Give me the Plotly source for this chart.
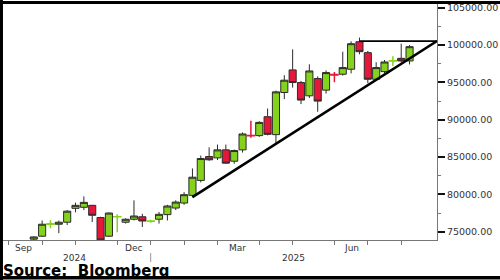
import numpy as np
import plotly.graph_objects as go

# ---- data (weekly candles) ----
dates = ["2024-09-20", "2024-09-27", "2024-10-04", "2024-10-11", "2024-10-18", "2024-10-25",
         "2024-11-01", "2024-11-08", "2024-11-15", "2024-11-22", "2024-11-29",
         "2024-12-06", "2024-12-13", "2024-12-20", "2024-12-27",
         "2025-01-03", "2025-01-10", "2025-01-17", "2025-01-24", "2025-01-31",
         "2025-02-07", "2025-02-14", "2025-02-21", "2025-02-28",
         "2025-03-07", "2025-03-14", "2025-03-21", "2025-03-28",
         "2025-04-04", "2025-04-11", "2025-04-18", "2025-04-25",
         "2025-05-02", "2025-05-09", "2025-05-16", "2025-05-23", "2025-05-30",
         "2025-06-06", "2025-06-13", "2025-06-20", "2025-06-27",
         "2025-07-04", "2025-07-11", "2025-07-18", "2025-07-25", "2025-08-01"]

open_ = [74000, 74400, 76000, 76000, 76270, 78130, 78270, 78530, 76900, 74400,
         77000, 76270, 76670, 77000, 76400, 76670, 77290, 78170, 78840, 79870,
         81870, 85070, 84890, 85960, 84440, 85960, 87900, 87870, 90400, 88000,
         93640, 96670, 94980, 93200, 95510, 93960, 96040, 96090, 96760, 100440,
         98980, 95420, 96440, 97870, 98220, 97870]
high = [74400, 76500, 76530, 76500, 77900, 78900, 79730, 78600, 77000, 77600,
        77330, 76800, 79200, 77400, 76600, 77640, 78600, 79200, 80300, 83470,
        85200, 86300, 86670, 86670, 86000, 88300, 89870, 89800, 91500, 93900,
        95960, 99420, 95200, 97420, 95800, 96600, 96400, 99110, 100500, 101000,
        99200, 97700, 98000, 98500, 100180, 100000]
low = [73900, 74300, 75470, 74800, 75900, 77600, 77900, 76300, 73800, 74300,
       74930, 76100, 76500, 75640, 76200, 76090, 76500, 77900, 78600, 79600,
       81600, 84500, 84600, 84100, 84100, 85600, 87600, 87700, 87900, 86760,
       92760, 94300, 92090, 92900, 91070, 93500, 95000, 95900, 96200, 98760,
       94900, 95300, 96200, 97200, 97700, 97400]
close = [74300, 76000, 76050, 76270, 77750, 78530, 78930, 77200, 73900, 77500,
         77020, 76670, 77100, 76430, 76430, 77330, 78440, 78970, 79960, 82300,
         84800, 84630, 85960, 84180, 85870, 88090, 87840, 89640, 88040, 93730,
         95290, 94980, 92630, 96530, 92490, 96310, 96000, 96980, 100180, 99110,
         95420, 96980, 97730, 97900, 97870, 99780]

trend_x = ["2025-01-31", "2025-08-24"]
trend_y = [79640, 100530]
resist_x = ["2025-06-20", "2025-08-24"]
resist_y = [100530, 100530]

tick_dates = ["2024-08-30", "2024-09-27", "2024-10-25", "2024-11-29", "2024-12-27",
              "2025-01-24", "2025-02-21", "2025-03-28", "2025-04-25", "2025-05-30",
              "2025-06-27", "2025-07-25"]
month_labels = ["Sep", "Dec", "Mar", "Jun"]
month_label_dates = ["2024-09-11", "2024-12-13", "2025-03-10", "2025-06-13"]
year_labels = ["2024", "2025"]
year_label_dates = ["2024-10-24", "2025-04-26"]
year_sep_date = "2024-12-27"
y_ticks = [75000, 80000, 85000, 90000, 95000, 100000, 105000]

GREEN = "#84d21c"
RED = "#e5173b"
OUT = "#2b2b2b"

o = np.array(open_, float); h = np.array(high, float)
l = np.array(low, float); c = np.array(close, float)
d = np.array(dates)
doji = np.abs(c - o) < 100

fig = go.Figure()
fig.add_trace(go.Candlestick(
    x=d[~doji], open=o[~doji], high=h[~doji], low=l[~doji], close=c[~doji],
    increasing=dict(fillcolor=GREEN, line=dict(color=OUT, width=1)),
    decreasing=dict(fillcolor=RED, line=dict(color=OUT, width=1)),
    whiskerwidth=0, showlegend=False, hoverinfo="skip"))
fig.add_trace(go.Candlestick(
    x=d[doji], open=o[doji], high=h[doji], low=l[doji], close=c[doji],
    increasing=dict(fillcolor=GREEN, line=dict(color=GREEN, width=1.5)),
    decreasing=dict(fillcolor=RED, line=dict(color=RED, width=1.5)),
    whiskerwidth=0, showlegend=False, hoverinfo="skip"))
fig.add_trace(go.Scatter(x=trend_x, y=trend_y, mode="lines",
                         line=dict(color="black", width=2.6), showlegend=False, hoverinfo="skip"))
fig.add_trace(go.Scatter(x=resist_x, y=resist_y, mode="lines",
                         line=dict(color="black", width=1.6), showlegend=False, hoverinfo="skip"))

FONT = "DejaVu Sans"
ann = []
for t, xd in zip(month_labels, month_label_dates):
    ann.append(dict(text=t, x=xd, xref="x", y=-0.034, yref="paper", showarrow=False,
                    xanchor="center", yanchor="middle", font=dict(family=FONT, size=9, color="#333")))
for t, xd in zip(year_labels, year_label_dates):
    ann.append(dict(text=t, x=xd, xref="x", y=-0.077, yref="paper", showarrow=False,
                    xanchor="center", yanchor="middle", font=dict(family=FONT, size=9, color="#333")))
ann.append(dict(text="<b>Source:  Bloomberg</b>", x=-0.004, xref="paper", y=-0.13, yref="paper",
                showarrow=False, xanchor="left", yanchor="middle",
                font=dict(family=FONT, size=15, color="black")))

shapes = [
    dict(type="line", xref="x", yref="paper", x0=year_sep_date, x1=year_sep_date,
         y0=-0.055, y1=-0.093, line=dict(color="#999", width=1)),
    # outer frame
    dict(type="line", xref="paper", yref="paper", x0=-0.0035, x1=-0.0035, y0=-0.2, y1=1.1,
         line=dict(color="black", width=3)),
    dict(type="line", xref="paper", yref="paper", x0=-0.02, x1=1.2, y0=1.0025, y1=1.0025,
         line=dict(color="black", width=3)),
    dict(type="line", xref="paper", yref="paper", x0=-0.02, x1=1.2, y0=-0.1595, y1=-0.1595,
         line=dict(color="black", width=3.5)),
]

fig.update_layout(
    width=500, height=280, margin=dict(l=3, r=60, t=2, b=40),
    paper_bgcolor="white", plot_bgcolor="white", boxgap=0.15, boxgroupgap=0,
    annotations=ann, shapes=shapes,
    xaxis=dict(type="date", range=["2024-08-25 05:00", "2025-08-24"],
               tickvals=tick_dates, ticktext=[""] * len(tick_dates),
               ticks="outside", ticklen=4, tickcolor="#777", tickwidth=1,
               showline=True, linecolor="#777", linewidth=1, showgrid=False,
               zeroline=False, rangeslider=dict(visible=False), fixedrange=True),
    yaxis=dict(side="right", range=[73890, 105630], tickvals=y_ticks,
               tickformat=".2f", ticks="outside", ticklen=7, tickwidth=2, tickcolor="#111",
               minor=dict(dtick=2500, tick0=72500, ticks="outside", ticklen=3,
                          tickcolor="#777", tickwidth=1, showgrid=False),
               showline=True, linecolor="#777", linewidth=1, showgrid=False, zeroline=False,
               tickfont=dict(family=FONT, size=9.5, color="#333"), fixedrange=True),
)

fig.write_html("out.html")
